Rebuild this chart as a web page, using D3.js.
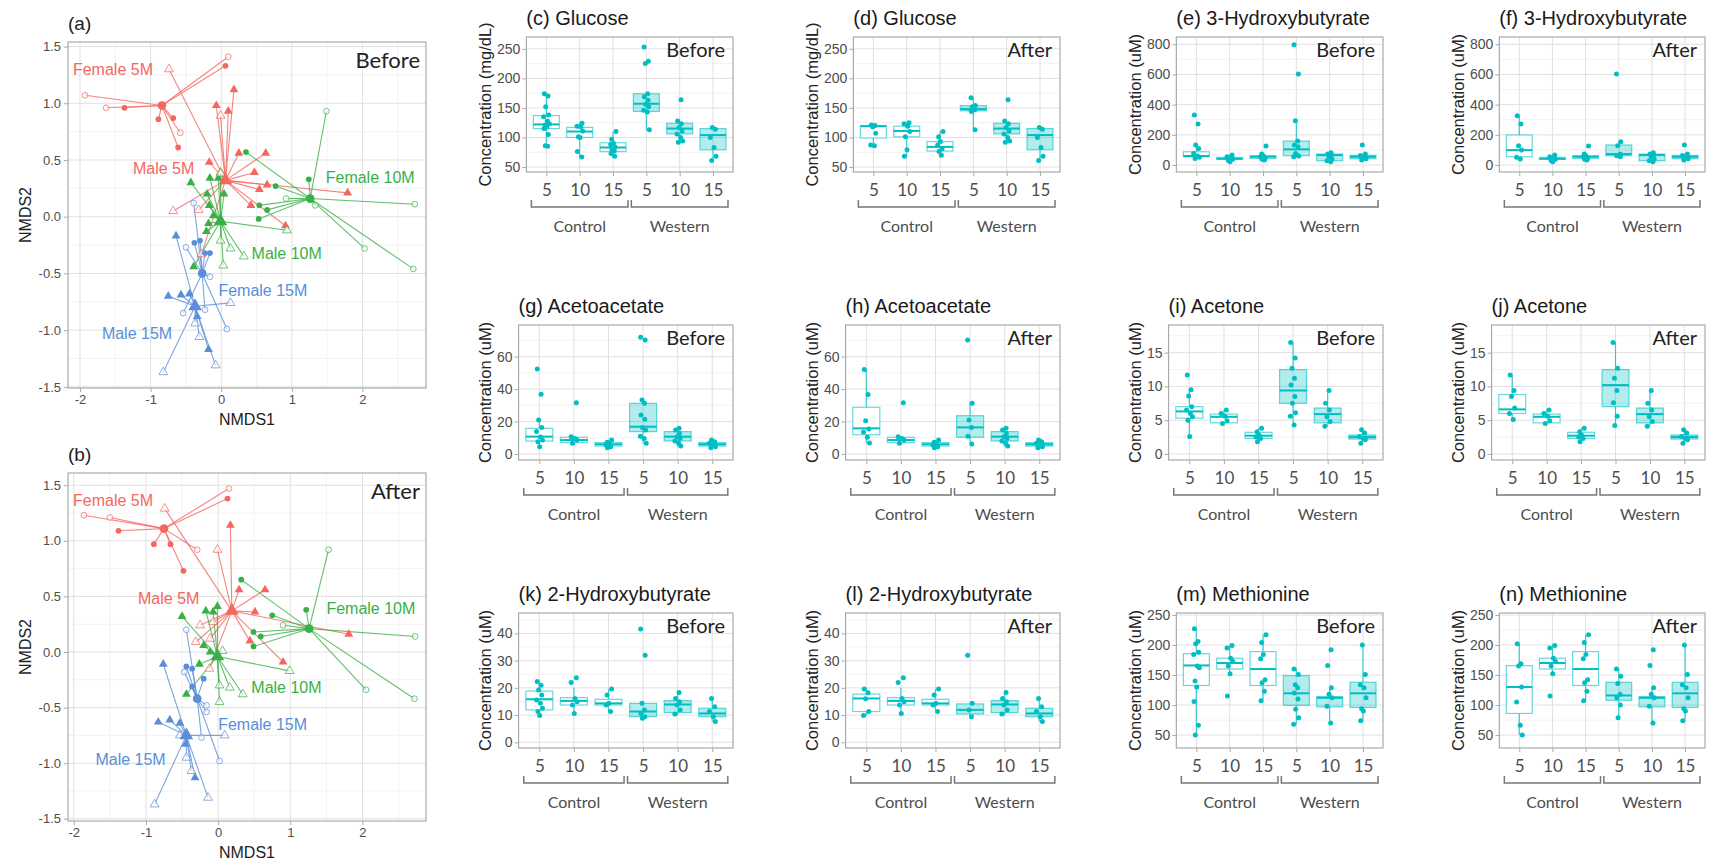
<!DOCTYPE html>
<html>
<head>
<meta charset="utf-8">
<script src="https://cdn.jsdelivr.net/npm/d3@7"></script>
<style>
  body { margin: 0; background: #fff; }
  svg { display: block; }
</style>
</head>
<body>
<script>
// ---------- data: box panels ----------
const boxCats = ["5", "10", "15", "5", "10", "15"];
const dietGroups = ["Control", "Western"];

// box stats per category: [lower whisker, q1, median, q3, upper whisker]
const glucoseBeforeBox = [[85,115,122,137,174],[67,100,110,117,124],[68,76,83,91,110],[112,144,157,174,175],[92,106,115,124,128],[61,79,104,115,117]];
const glucoseBeforePts = [[174,170,152,138,135,128,123,121,118,115,105,86,85],[124,119,118,111,101,100,76,67],[110,97,90,88,84,80,77,73,68],[253,229,225,174,169,163,156,152,146,143,113],[164,128,123,117,111,106,100,94,92],[117,114,100,83,68,61]];
const glucoseAfterBox = [[86,99,119,120,121],[68,101,111,119,125],[70,77,84,93,110],[113,145,148,154,167],[92,106,115,124,128],[61,79,104,115,117]];
const glucoseAfterPts = [[121,120,118,107,87,86],[125,123,119,110,101,79,68],[110,101,93,87,81,76,70],[167,154,152,147,144,113],[164,128,123,117,111,106,100,94,92],[117,114,100,83,68,61]];

const hbBeforeBox = [[44,55,60,88,133],[22,38,42,51,66],[33,44,55,62,73],[55,62,104,159,294],[22,29,66,73,82],[33,42,55,64,75]];
const hbBeforePts = [[331,272,133,110,77,60,51,44],[66,55,45,38,30,22],[126,73,62,55,44,38,33],[796,603,294,159,133,122,77,60,55],[82,73,66,55,38,29,22],[133,73,64,55,42,33]];
const hbAfterBox = [[40,55,99,199,327],[22,38,42,51,66],[33,44,55,62,73],[55,62,73,133,155],[22,29,66,73,82],[33,42,55,64,75]];
const hbAfterPts = [[327,272,128,99,51,40],[66,55,45,38,30,22],[126,73,62,55,44,38,33],[603,155,128,73,62,55],[82,73,66,55,38,29,22],[133,73,64,55,42,33]];

const acacBeforeBox = [[4.5,8,10.7,15.8,21],[6,7,8.6,10.3,11],[3.9,4.9,6,7,8.6],[6.6,13.8,16.8,31.2,33.3],[4.5,8,10.7,13.8,15.8],[3.9,4.9,6,7,8.6]];
const acacBeforePts = [[52.4,36.8,21,16.4,13.8,10.5,8.6,7.6,4.5],[31.6,10.7,9.5,8.6,6.6],[8.6,7.2,6.6,5.5,4.5,3.9],[71.9,70.3,33.3,31.2,24,21.4,16.4,14.8,11,9.6,6.6],[15.8,14.8,12.7,10.7,9.6,8,6.6,4.9],[8.6,7.5,6.6,5.5,4.5,3.9]];
const acacAfterBox = [[6.8,11.9,15.8,28.8,52],[6,7,8.6,10.3,11],[3.9,4.9,6,7,8.6],[6.2,10.3,16.4,23.6,31.2],[4.5,8,10.7,13.8,15.8],[3.9,4.9,6,7,8.6]];
const acacAfterPts = [[52,36.6,20.5,15.4,13.5,10.3,6.8],[31.6,10.7,9.5,8.6,6.6],[8.6,7.2,6.6,5.5,4.5,3.9],[70.3,31.2,21,16.4,10.9,6.2],[15.8,14.8,12.7,10.7,9.6,8,6.6,4.9],[8.6,7.5,6.6,5.5,4.5,3.9]];

const acetoneBeforeBox = [[2.6,5.3,6.3,7,9.5],[4.4,4.6,5.5,5.9,6.5],[1.8,2.3,2.7,3.2,3.8],[4.3,7.5,9.4,12.5,16.5],[4.1,4.6,5.9,6.8,9.4],[1.5,2.2,2.5,2.8,3.5]];
const acetoneBeforePts = [[11.7,9.5,8.6,7,6.5,6,5.5,5,2.6],[6.5,6,5.6,4.9,4.5],[3.8,3.3,2.8,2.5,2.3,1.8],[16.5,14.2,12.7,11.2,10.2,8.5,7.5,6.1,5.6,4.3],[9.4,7.5,6.5,5.5,4.8,4.1],[3.6,3.1,2.6,2.3,2.1,1.6]];
const acetoneAfterBox = [[5.1,6,6.6,8.8,11.7],[4.4,4.6,5.5,5.9,6.5],[1.8,2.3,2.7,3.2,3.8],[4.2,7,10.2,12.5,16.5],[4.1,4.6,5.9,6.8,9.4],[1.5,2.2,2.5,2.8,3.5]];
const acetoneAfterPts = [[11.7,9.4,8.5,6.8,6,5.1],[6.5,6,5.6,4.9,4.5],[3.8,3.3,2.8,2.5,2.3,1.8],[16.5,12.7,11.2,9.4,7.6,5.6,4.2],[9.4,7.5,6.5,5.5,4.8,4.1],[3.6,3.1,2.6,2.3,2.1,1.6]];

const hb2BeforeBox = [[9.8,11.9,15.8,18.8,22.3],[10.6,13.7,15.2,16.4,20],[11.3,13.7,14.3,15.8,19.6],[8.8,9.4,11.3,14.3,14.3],[10,10.9,13.9,15.3,18.3],[7.6,9.4,10.6,12.5,16.1]];
const hb2BeforePts = [[22.3,21,19.2,17.4,15.5,14.3,12.5,11.3,9.8],[23.7,22,16.1,14.9,13.7,10.6],[19.6,17.4,14.3,13.7,11.3],[41.6,32,14.3,11.9,10.6,9.4,8.8],[18.3,16.1,14.9,13.7,11.9,10.4],[16.1,13.1,11.3,9.4,7.6]];
const hb2AfterBox = [[9.8,11.3,16.1,17.7,19.6],[10.6,13.7,15.2,16.4,20],[11.3,13.7,14.3,15.8,19.6],[8.8,10.4,11.9,14.1,14.3],[10,10.9,13.9,15.3,18.3],[7.6,9.4,10.6,12.5,16.1]];
const hb2AfterPts = [[19.6,18.2,16,11.3,9.8],[23.7,22,16.1,14.9,13.7,10.6],[19.6,17.4,14.3,13.7,11.3],[32,14.3,11.9,9.4],[18.3,16.1,14.9,13.7,11.9,10.4],[16.1,13.1,11.3,9.4,7.6]];

const metBeforeBox = [[50,132.6,166,185.5,227],[152,160,170,178,199],[107,132.6,160,189,217],[68,99.6,119.6,149,160],[72,97,112,114,129],[74,96,119.6,138,200]];
const metBeforePts = [[227,206,202,188,184,165,162,140,130,106,66.5,50],[199,195,178,173,165,152,115],[217,204,184,177,142,137,123,107],[160,151,134,129,120,110,93,79,68],[192,166,129,118,112,98,70],[200,151,134,129,112,94,90,74]];
const metAfterBox = [[50,86,130,165.7,202],[152,160,170,178,199],[107,132.6,160,189,217],[79,108,116,138,160],[72,97,112,114,129],[74,96,119.6,138,200]];
const metAfterPts = [[202,169,165,130,105,66.5,50],[199,195,178,173,165,152,115],[217,204,184,177,142,137,123,107],[160,148,136,118,112,100,79],[192,166,129,118,112,98,70],[200,151,134,129,112,94,90,74]];

const glucoseTicks = [50, 100, 150, 200, 250];
const hbTicks = [0, 200, 400, 600, 800];
const acacTicks = [0, 20, 40, 60];
const acetoneTicks = [0, 5, 10, 15];
const hb2Ticks = [0, 10, 20, 30, 40];
const metTicks = [50, 100, 150, 200, 250];

// ---------- data: NMDS panels ----------
const nmdsGroups = ["Female 5M", "Male 5M", "Female 10M", "Male 10M", "Female 15M", "Male 15M"];
const nmdsAges = ["5M", "5M", "10M", "10M", "15M", "15M"];
const nmdsSex = ["F", "M", "F", "M", "F", "M"];
const nmdsXTicks = [-2, -1, 0, 1, 2];
const nmdsYTicks = [-1.5, -1.0, -0.5, 0.0, 0.5, 1.0, 1.5];

const beforeCentroids = [[-0.84,0.98],[0.06,0.32],[1.26,0.16],[-0.01,-0.04],[-0.27,-0.50],[-0.37,-0.79]];
// [NMDS1, NMDS2, filled]
const beforePoints = [
  [[-1.93,1.07,0],[-1.63,0.96,0],[-1.37,0.96,1],[-0.89,0.86,1],[-0.68,0.87,1],[-0.58,0.74,0],[-0.61,0.61,1],[0.06,1.33,1],[0.10,1.41,0]],
  [[-0.74,1.30,0],[-0.07,0.98,1],[-0.01,0.89,0],[0.10,0.93,1],[0.18,1.12,1],[-0.17,0.48,1],[-0.01,0.39,0],[0.25,0.56,1],[0.63,0.56,1],[0.47,0.39,1],[0.65,0.28,1],[0.54,0.24,1],[1.79,0.21,1],[0.42,0.10,1],[0.91,-0.08,1],[-0.68,0.05,0],[-0.32,0.06,0],[-0.28,-0.33,0]],
  [[0.35,0.57,1],[1.24,0.33,1],[0.77,0.27,1],[0.92,0.16,0],[0.54,0.10,1],[0.65,0.06,1],[0.53,-0.02,1],[1.33,0.10,0],[1.49,0.93,0],[2.03,-0.28,0],[2.74,0.11,0],[2.72,-0.46,0]],
  [[-0.43,0.30,1],[-0.16,0.34,1],[-0.04,0.34,1],[-0.01,0.38,0],[-0.20,0.20,1],[0.04,0.20,1],[-0.17,0.10,1],[-0.11,0.01,1],[-0.18,-0.06,1],[-0.21,-0.13,1],[-0.39,-0.44,1],[0.93,-0.12,0],[0.32,-0.35,0],[0.03,-0.43,0],[0.13,-0.28,0],[-0.01,-0.21,0]],
  [[-0.38,-0.23,1],[-0.30,-0.21,1],[-0.16,-0.32,1],[-0.23,-0.32,1],[-0.50,-0.27,0],[-0.16,-0.53,0],[-0.23,-0.82,0],[0.08,-0.99,0],[-0.39,0.12,0],[-0.54,-0.85,0]],
  [[-0.64,-0.17,1],[-0.75,-0.70,1],[-0.57,-0.69,1],[-0.45,-0.68,1],[-0.34,-0.88,1],[-0.18,-1.17,1],[-0.82,-1.37,0],[-0.08,-1.31,0],[0.13,-0.76,0],[-0.31,-1.06,0],[-0.37,-0.94,0]]
];
const afterCentroids = [[-0.75,1.11],[0.19,0.37],[1.26,0.21],[-0.01,-0.04],[-0.29,-0.42],[-0.44,-0.75]];
const afterPoints = [
  [[-1.86,1.23,0],[-1.50,1.21,0],[-1.38,1.09,1],[-0.89,0.97,1],[-0.66,0.97,1],[-0.29,0.92,0],[-0.48,0.73,1],[0.13,1.38,1],[0.15,1.47,0]],
  [[-0.74,1.29,0],[-0.01,0.92,0],[0.17,1.14,1],[0.29,0.56,1],[0.65,0.56,1],[0.51,0.36,1],[1.81,0.16,1],[0.44,0.10,1],[0.90,-0.09,1],[-0.25,0.24,0],[-0.31,0.09,0],[-0.07,0.27,0],[-0.11,0.12,0],[-0.12,-0.15,0]],
  [[0.32,0.65,1],[1.22,0.38,1],[0.75,0.33,1],[0.90,0.24,0],[0.49,0.18,1],[0.59,0.14,1],[0.49,0.05,1],[1.53,0.92,0],[2.05,-0.34,0],[2.73,0.14,0],[2.72,-0.42,0]],
  [[-0.50,0.32,1],[-0.17,0.37,1],[-0.01,0.41,1],[-0.07,0.36,1],[-0.20,0.06,1],[-0.11,0.00,1],[-0.26,-0.11,1],[-0.44,-0.38,1],[0.99,-0.17,0],[0.34,-0.38,0],[0.06,0.01,0],[0.16,-0.32,0],[0.02,-0.45,0],[0.02,-0.30,0]],
  [[-0.44,-0.13,1],[-0.36,-0.15,1],[-0.36,-0.31,1],[-0.20,-0.24,1],[-0.44,0.20,0],[-0.47,-0.18,0],[-0.16,-0.48,0],[-0.16,-0.54,0],[0.02,-0.98,0],[-0.23,-0.77,0]],
  [[-0.76,-0.11,1],[-0.83,-0.63,1],[-0.67,-0.61,1],[-0.53,-0.64,1],[-0.45,-0.83,1],[-0.32,-1.13,1],[-0.88,-1.37,0],[-0.14,-1.31,0],[0.09,-0.75,0],[-0.37,-1.07,0],[-0.44,-0.95,0],[-0.53,-0.75,0]]
];
// group label anchors (text start, baseline) in NMDS units
const beforeLabelAt = [[-2.1,1.25],[-1.25,0.38],[1.48,0.30],[0.43,-0.37],[-0.04,-0.70],[-1.69,-1.08]];
const afterLabelAt = [[-2.01,1.31],[-1.11,0.43],[1.50,0.34],[0.46,-0.37],[0.0,-0.70],[-1.70,-1.02]];

// ---------- setup ----------
const W = 1713, H = 862;
const sans = "'Liberation Sans', Arial, sans-serif";
const soft = "Lato, 'Open Sans', sans-serif";
const teal = "#00BFC4";
const ageColor = { "5M": "#F4675F", "10M": "#38B046", "15M": "#5A8ED8" };
const gridMajor = "#e0e0e0", gridMinor = "#efefef", frame = "#aaaaaa", tickText = "#4d4d4d";
const jit = [-0.06, 0.05, -0.02, 0.07, -0.08, 0.03, 0.09, -0.04, 0.01, -0.07, 0.06, -0.03, 0.04];

const svg = d3.select("body").append("svg").attr("width", W).attr("height", H);

// ---------- NMDS spider plots ----------
function nmds(cfg) {
  const left = 68, right = 426;
  const x = d3.scaleLinear().domain(cfg.xDom).range([left, right]);
  const y = d3.scaleLinear().domain(cfg.yDom).range([cfg.bottom, cfg.top]);
  const g = svg.append("g");

  const xMinor = d3.range(-2.5, 3.01, 1).filter(v => v > cfg.xDom[0] && v < cfg.xDom[1]);
  const yMinor = d3.range(-1.25, 1.5, 0.5).filter(v => v > cfg.yDom[0] && v < cfg.yDom[1]);
  g.selectAll(".xmin").data(xMinor).join("line")
    .attr("x1", d => x(d)).attr("x2", d => x(d)).attr("y1", cfg.top).attr("y2", cfg.bottom)
    .attr("stroke", gridMinor).attr("stroke-width", 0.8);
  g.selectAll(".ymin").data(yMinor).join("line")
    .attr("y1", d => y(d)).attr("y2", d => y(d)).attr("x1", left).attr("x2", right)
    .attr("stroke", gridMinor).attr("stroke-width", 0.8);
  g.selectAll(".xmaj").data(nmdsXTicks).join("line")
    .attr("x1", d => x(d)).attr("x2", d => x(d)).attr("y1", cfg.top).attr("y2", cfg.bottom)
    .attr("stroke", gridMajor).attr("stroke-width", 1);
  g.selectAll(".ymaj").data(nmdsYTicks).join("line")
    .attr("y1", d => y(d)).attr("y2", d => y(d)).attr("x1", left).attr("x2", right)
    .attr("stroke", gridMajor).attr("stroke-width", 1);

  // spider lines
  cfg.points.forEach((pts, gi) => {
    const c = cfg.centroids[gi], col = ageColor[nmdsAges[gi]];
    g.selectAll(null).data(pts).join("line")
      .attr("x1", x(c[0])).attr("y1", y(c[1]))
      .attr("x2", d => x(d[0])).attr("y2", d => y(d[1]))
      .attr("stroke", col).attr("stroke-width", 1.1).attr("stroke-opacity", 0.8);
  });
  // points
  cfg.points.forEach((pts, gi) => {
    const col = ageColor[nmdsAges[gi]];
    const tri = nmdsSex[gi] === "M";
    const sym = d3.symbol().type(tri ? d3.symbolTriangle : d3.symbolCircle).size(tri ? 34 : 26);
    g.selectAll(null).data(pts).join("path")
      .attr("d", sym)
      .attr("transform", d => `translate(${x(d[0])},${y(d[1])})`)
      .attr("fill", d => d[2] ? col : "#fff")
      .attr("fill-opacity", d => d[2] ? 1 : 0.6)
      .attr("stroke", col).attr("stroke-width", d => d[2] ? 0 : 0.9)
      .attr("stroke-opacity", 0.8);
  });
  // centroids
  cfg.centroids.forEach((c, gi) => {
    const tri = nmdsSex[gi] === "M";
    const sym = d3.symbol().type(tri ? d3.symbolTriangle : d3.symbolCircle).size(tri ? 80 : 60);
    g.append("path").attr("d", sym)
      .attr("transform", `translate(${x(c[0])},${y(c[1])})`)
      .attr("fill", ageColor[nmdsAges[gi]]);
  });
  // group labels
  nmdsGroups.forEach((name, gi) => {
    g.append("text").attr("x", x(cfg.labelAt[gi][0])).attr("y", y(cfg.labelAt[gi][1]))
      .attr("font-family", sans).attr("font-size", 16)
      .attr("fill", ageColor[nmdsAges[gi]]).text(name);
  });

  g.append("rect").attr("x", left).attr("y", cfg.top)
    .attr("width", right - left).attr("height", cfg.bottom - cfg.top)
    .attr("fill", "none").attr("stroke", frame).attr("stroke-width", 1.2);

  const xa = g.append("g").attr("transform", `translate(0,${cfg.bottom})`)
    .call(d3.axisBottom(x).tickValues(nmdsXTicks).tickFormat(d => String(d)).tickSize(4).tickPadding(3));
  const ya = g.append("g").attr("transform", `translate(${left},0)`)
    .call(d3.axisLeft(y).tickValues(nmdsYTicks).tickFormat(d => d.toFixed(1)).tickSize(4).tickPadding(3));
  [xa, ya].forEach(a => {
    a.select(".domain").remove();
    a.selectAll("line").attr("stroke", frame);
    a.selectAll("text").attr("font-family", sans).attr("font-size", 13).attr("fill", tickText);
  });

  g.append("text").attr("x", (left + right) / 2).attr("y", cfg.bottom + 37)
    .attr("text-anchor", "middle").attr("font-family", sans).attr("font-size", 16)
    .attr("fill", "#222").text("NMDS1");
  g.append("text").attr("transform", `translate(25,${(cfg.top + cfg.bottom) / 2}) rotate(-90)`)
    .attr("text-anchor", "middle").attr("dominant-baseline", "central")
    .attr("font-family", sans).attr("font-size", 16).attr("fill", "#222").text("NMDS2");
  g.append("text").attr("x", left).attr("y", cfg.top - 12)
    .attr("font-family", sans).attr("font-size", 19).attr("fill", "#222").text(cfg.tag);
  g.append("text").attr("x", right - 6).attr("y", cfg.top + 26)
    .attr("text-anchor", "end").attr("font-family", soft).attr("font-size", 22)
    .attr("fill", "#222").text(cfg.when);
}

nmds({ tag: "(a)", when: "Before", top: 42, bottom: 388, xDom: [-2.17, 2.9], yDom: [-1.51, 1.54],
  centroids: beforeCentroids, points: beforePoints, labelAt: beforeLabelAt });
nmds({ tag: "(b)", when: "After", top: 473, bottom: 821, xDom: [-2.08, 2.88], yDom: [-1.52, 1.61],
  centroids: afterCentroids, points: afterPoints, labelAt: afterLabelAt });

// ---------- box plots ----------
const colRight = [733, 1060, 1383, 1705];
const colTitleX = [485, 812, 1135, 1458];

const boxPanels = [
  { tag: "(c) Glucose", unit: "Concentration (mg/dL)", when: "Before", row: 0, col: 0, dom: [41.5, 270], ticks: glucoseTicks, box: glucoseBeforeBox, pts: glucoseBeforePts },
  { tag: "(d) Glucose", unit: "Concentration (mg/dL)", when: "After", row: 0, col: 1, dom: [41.5, 270], ticks: glucoseTicks, box: glucoseAfterBox, pts: glucoseAfterPts },
  { tag: "(e) 3-Hydroxybutyrate", unit: "Concentration (uM)", when: "Before", row: 0, col: 2, dom: [-46, 848], ticks: hbTicks, box: hbBeforeBox, pts: hbBeforePts },
  { tag: "(f) 3-Hydroxybutyrate", unit: "Concentration (uM)", when: "After", row: 0, col: 3, dom: [-46, 848], ticks: hbTicks, box: hbAfterBox, pts: hbAfterPts },
  { tag: "(g) Acetoacetate", unit: "Concentration (uM)", when: "Before", row: 1, col: 0, dom: [-3.7, 79.5], ticks: acacTicks, box: acacBeforeBox, pts: acacBeforePts },
  { tag: "(h) Acetoacetate", unit: "Concentration (uM)", when: "After", row: 1, col: 1, dom: [-3.7, 79.5], ticks: acacTicks, box: acacAfterBox, pts: acacAfterPts },
  { tag: "(i) Acetone", unit: "Concentration (uM)", when: "Before", row: 1, col: 2, dom: [-0.9, 19.1], ticks: acetoneTicks, box: acetoneBeforeBox, pts: acetoneBeforePts },
  { tag: "(j) Acetone", unit: "Concentration (uM)", when: "After", row: 1, col: 3, dom: [-0.9, 19.1], ticks: acetoneTicks, box: acetoneAfterBox, pts: acetoneAfterPts },
  { tag: "(k) 2-Hydroxybutyrate", unit: "Concentration (uM)", when: "Before", row: 2, col: 0, dom: [-2.1, 47.5], ticks: hb2Ticks, box: hb2BeforeBox, pts: hb2BeforePts },
  { tag: "(l) 2-Hydroxybutyrate", unit: "Concentration (uM)", when: "After", row: 2, col: 1, dom: [-2.1, 47.5], ticks: hb2Ticks, box: hb2AfterBox, pts: hb2AfterPts },
  { tag: "(m) Methionine", unit: "Concentration (uM)", when: "Before", row: 2, col: 2, dom: [28.5, 253.3], ticks: metTicks, box: metBeforeBox, pts: metBeforePts },
  { tag: "(n) Methionine", unit: "Concentration (uM)", when: "After", row: 2, col: 3, dom: [28.5, 253.3], ticks: metTicks, box: metAfterBox, pts: metAfterPts }
];

function boxPanel(p) {
  const top = 37 + 288 * p.row, bottom = 172 + 288 * p.row;
  const right = colRight[p.col], titleX = colTitleX[p.col];
  const g = svg.append("g");

  // width of the widest tick label decides where the panel starts
  const probe = g.append("g").attr("font-family", sans).attr("font-size", 14);
  let maxW = 0;
  p.ticks.forEach(t => {
    maxW = Math.max(maxW, probe.append("text").text(t).node().getComputedTextLength());
  });
  probe.remove();
  const left = titleX + 13 + maxW + 5;

  const x = d3.scalePoint().domain(d3.range(boxCats.length)).range([left, right]).padding(0.6);
  const step = x.step();
  const y = d3.scaleLinear().domain(p.dom).range([bottom, top]);

  const tstep = p.ticks[1] - p.ticks[0];
  const minor = d3.range(p.ticks[0] - tstep / 2, p.ticks[p.ticks.length - 1] + tstep, tstep)
    .filter(v => v > p.dom[0] && v < p.dom[1]);
  g.selectAll(".ymin").data(minor).join("line")
    .attr("x1", left).attr("x2", right).attr("y1", d => y(d)).attr("y2", d => y(d))
    .attr("stroke", gridMinor).attr("stroke-width", 0.8);
  g.selectAll(".ymaj").data(p.ticks).join("line")
    .attr("x1", left).attr("x2", right).attr("y1", d => y(d)).attr("y2", d => y(d))
    .attr("stroke", gridMajor).attr("stroke-width", 1);
  g.selectAll(".xmaj").data(d3.range(boxCats.length)).join("line")
    .attr("x1", d => x(d)).attr("x2", d => x(d)).attr("y1", top).attr("y2", bottom)
    .attr("stroke", gridMajor).attr("stroke-width", 1);

  const bw = 0.78 * step;
  p.box.forEach((b, i) => {
    const cx = x(i), western = i >= 3;
    g.append("line").attr("x1", cx).attr("x2", cx).attr("y1", y(b[0])).attr("y2", y(b[1]))
      .attr("stroke", teal).attr("stroke-opacity", 0.75).attr("stroke-width", 1.2);
    g.append("line").attr("x1", cx).attr("x2", cx).attr("y1", y(b[3])).attr("y2", y(b[4]))
      .attr("stroke", teal).attr("stroke-opacity", 0.75).attr("stroke-width", 1.2);
    g.append("rect").attr("x", cx - bw / 2).attr("y", y(b[3]))
      .attr("width", bw).attr("height", Math.max(1, y(b[1]) - y(b[3])))
      .attr("fill", western ? teal : "#fff").attr("fill-opacity", western ? 0.3 : 1)
      .attr("stroke", teal).attr("stroke-opacity", 0.6).attr("stroke-width", 1.2);
    g.append("line").attr("x1", cx - bw / 2).attr("x2", cx + bw / 2).attr("y1", y(b[2])).attr("y2", y(b[2]))
      .attr("stroke", teal).attr("stroke-width", 2);
  });

  p.pts.forEach((vals, i) => {
    g.selectAll(null).data(vals).join("circle")
      .attr("cx", (d, k) => x(i) + jit[(k + i * 3) % jit.length] * step)
      .attr("cy", d => y(d)).attr("r", 2.5).attr("fill", teal);
  });

  g.append("rect").attr("x", left).attr("y", top).attr("width", right - left).attr("height", bottom - top)
    .attr("fill", "none").attr("stroke", frame).attr("stroke-width", 1.2);

  const ya = g.append("g").attr("transform", `translate(${left},0)`)
    .call(d3.axisLeft(y).tickValues(p.ticks).tickFormat(d3.format("d")).tickSize(4).tickPadding(2));
  ya.select(".domain").remove();
  ya.selectAll("line").attr("stroke", frame);
  ya.selectAll("text").attr("font-family", sans).attr("font-size", 14).attr("fill", tickText);

  const xa = g.append("g").attr("transform", `translate(0,${bottom})`)
    .call(d3.axisBottom(x).tickFormat(i => boxCats[i]).tickSize(4).tickPadding(8));
  xa.select(".domain").remove();
  xa.selectAll("line").attr("stroke", frame);
  xa.selectAll("text").attr("font-family", soft).attr("font-size", 17).attr("fill", tickText);

  // diet brackets
  dietGroups.forEach((name, k) => {
    const x0 = x(k * 3) - 0.45 * step, x1 = x(k * 3 + 2) + 0.45 * step, yb = bottom + 35;
    g.append("path").attr("d", `M${x0},${yb - 7}V${yb}H${x1}V${yb - 7}`)
      .attr("fill", "none").attr("stroke", "#777").attr("stroke-width", 1.5);
    g.append("text").attr("x", (x0 + x1) / 2).attr("y", bottom + 60).attr("text-anchor", "middle")
      .attr("font-family", soft).attr("font-size", 16).attr("fill", tickText).text(name);
  });

  g.append("text").attr("transform", `translate(${titleX},${(top + bottom) / 2}) rotate(-90)`)
    .attr("text-anchor", "middle").attr("dominant-baseline", "central")
    .attr("font-family", sans).attr("font-size", 16.5).attr("fill", "#222").text(p.unit);
  g.append("text").attr("x", left).attr("y", top - 12)
    .attr("font-family", sans).attr("font-size", 20).attr("fill", "#1a1a1a").text(p.tag);
  g.append("text").attr("x", right - 8).attr("y", top + 20).attr("text-anchor", "end")
    .attr("font-family", soft).attr("font-size", 20).attr("fill", "#222").text(p.when);
}

boxPanels.forEach(boxPanel);
</script>
</body>
</html>
